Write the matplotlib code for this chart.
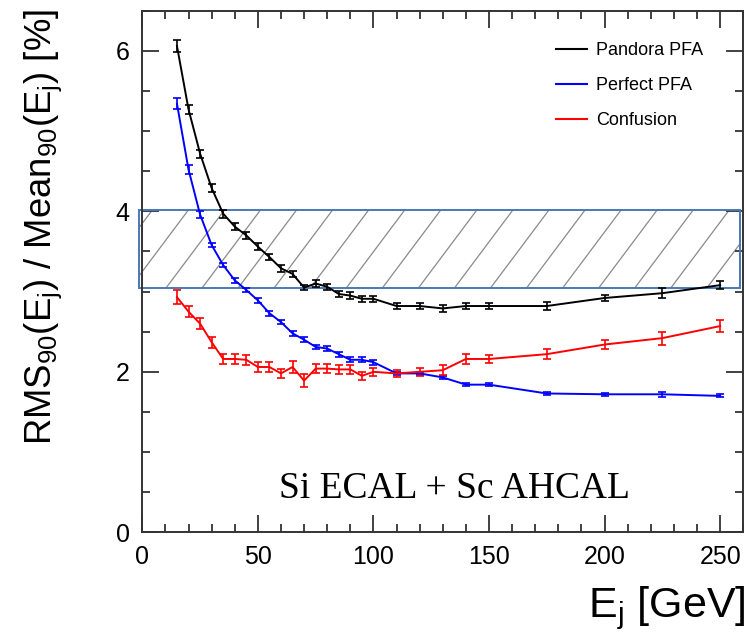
import numpy as np
import matplotlib
matplotlib.use("Agg")
import matplotlib.pyplot as plt
from matplotlib.lines import Line2D
from matplotlib.patches import Rectangle
from matplotlib.ticker import MultipleLocator

plt.rcParams['font.family'] = ['Liberation Sans', 'DejaVu Sans']
plt.rcParams['mathtext.fontset'] = 'custom'
plt.rcParams['mathtext.rm'] = 'Liberation Sans'
plt.rcParams['mathtext.it'] = 'Liberation Sans:italic'

# jet energy points [GeV]
energy = [15, 20, 25, 30, 35, 40, 45, 50, 55, 60, 65, 70, 75, 80, 85, 90, 95, 100,
          110, 120, 130, 140, 150, 175, 200, 225, 250]

# RMS90/Mean90 [%]
pandora = [6.06, 5.27, 4.72, 4.29, 3.97, 3.81, 3.70, 3.56, 3.43, 3.29, 3.22, 3.05, 3.10,
           3.06, 2.97, 2.95, 2.91, 2.91, 2.82, 2.82, 2.79, 2.82, 2.82, 2.82, 2.92, 2.98, 3.08]
pandora_err = [0.08, 0.06, 0.05, 0.05, 0.05, 0.04, 0.04, 0.04, 0.04, 0.04, 0.04, 0.03, 0.04,
               0.04, 0.04, 0.04, 0.04, 0.04, 0.04, 0.04, 0.04, 0.04, 0.04, 0.05, 0.04, 0.06, 0.05]

perfect = [5.34, 4.52, 3.96, 3.58, 3.33, 3.14, 3.02, 2.89, 2.73, 2.62, 2.48, 2.40, 2.31,
           2.29, 2.22, 2.15, 2.15, 2.12, 1.98, 1.98, 1.93, 1.84, 1.84, 1.73, 1.72, 1.72, 1.70]
perfect_err = [0.07, 0.06, 0.04, 0.03, 0.03, 0.03, 0.03, 0.03, 0.03, 0.03, 0.03, 0.03, 0.03,
               0.03, 0.03, 0.03, 0.03, 0.03, 0.02, 0.02, 0.02, 0.02, 0.02, 0.02, 0.02, 0.03, 0.02]

confusion = [2.93, 2.75, 2.60, 2.37, 2.16, 2.16, 2.15, 2.06, 2.06, 1.98, 2.06, 1.89, 2.04,
             2.04, 2.03, 2.03, 1.95, 2.00, 1.98, 2.00, 2.02, 2.16, 2.16, 2.22, 2.34, 2.42, 2.57]
confusion_err = [0.09, 0.07, 0.07, 0.07, 0.06, 0.06, 0.06, 0.06, 0.06, 0.06, 0.08, 0.08, 0.06,
                 0.06, 0.06, 0.06, 0.05, 0.05, 0.04, 0.05, 0.06, 0.06, 0.05, 0.06, 0.06, 0.08, 0.07]

series_names = ['Pandora PFA', 'Perfect PFA', 'Confusion']
series_colors = ['black', '#0000ff', '#ff0000']

# hatched reference band
band_low, band_high = 3.05, 4.02

fig = plt.figure(figsize=(7.47, 6.34), dpi=100)
ax = fig.add_axes([0.1905, 0.1604, 0.8045, 0.8227])

# band box spans the full axes width (x in axes fraction, y in data)
trans = ax.get_yaxis_transform()
box = Rectangle((-0.005, band_low), 1.0, band_high - band_low, transform=trans,
                facecolor='none', edgecolor='#4a78b8', linewidth=1.4, clip_on=False, zorder=2)
ax.add_patch(box)
# sparse hatch lines, clipped to the box
hatch_step = 0.06
hatch_run = 0.097
for x0 in np.arange(-0.2, 1.1, hatch_step):
    ln, = ax.plot([x0, x0 + hatch_run], [band_low, band_high], transform=trans,
                  color='#8a8a8a', linewidth=0.9, zorder=1, clip_on=True)
    ln.set_clip_path(box)

for vals, errs, col in [(pandora, pandora_err, series_colors[0]),
                        (perfect, perfect_err, series_colors[1]),
                        (confusion, confusion_err, series_colors[2])]:
    ax.errorbar(energy, vals, yerr=errs, color=col, linewidth=1.4, elinewidth=1.2,
                capsize=3, capthick=1.2, zorder=3)

ax.set_xlim(0, 260)
ax.set_ylim(0, 6.5)
ax.set_xticks([0, 50, 100, 150, 200, 250])
ax.set_yticks([0, 2, 4, 6])
ax.xaxis.set_minor_locator(MultipleLocator(10))
ax.yaxis.set_minor_locator(MultipleLocator(0.5))
ax.tick_params(which='both', direction='in', top=True, right=True, width=1.3, color='#333333')
ax.tick_params(which='major', length=12, labelsize=18, pad=9)
ax.tick_params(which='minor', length=5.5)
for sp in ax.spines.values():
    sp.set_linewidth(1.4)
    sp.set_color('#333333')

handles = [Line2D([0], [0], color=c, lw=1.5) for c in series_colors]
ax.legend(handles, series_names, loc='upper left', bbox_to_anchor=(0.688, 0.94),
          frameon=False, fontsize=13, handlelength=1.75, handletextpad=0.5,
          labelspacing=1.0, borderpad=0, borderaxespad=0)

ax.text(0.52, 0.066, 'Si ECAL + Sc AHCAL', transform=ax.transAxes, ha='center',
        va='baseline', fontsize=27, family='Liberation Serif')

fig.text(0.058, 0.642, r'RMS$_{90}$(E$_{\mathrm{j}}$) / Mean$_{90}$(E$_{\mathrm{j}}$) [%]',
         rotation=90, ha='center', va='center', fontsize=26.3)
fig.text(0.998, 0.027, r'E$_{\mathrm{j}}$ [GeV]', ha='right', va='baseline', fontsize=31)

fig.savefig('out.png', dpi=100)
